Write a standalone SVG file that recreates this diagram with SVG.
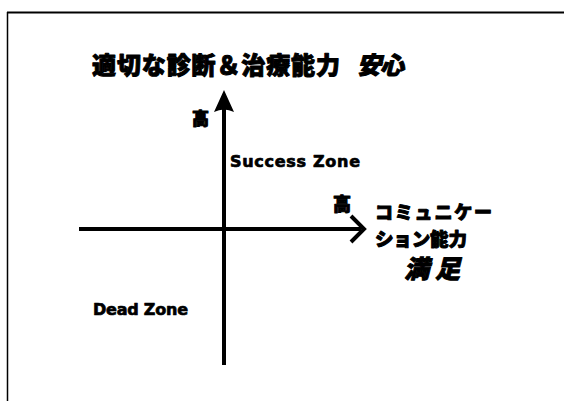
<svg xmlns="http://www.w3.org/2000/svg" width="564" height="401" viewBox="0 0 564 401">
<style>
.jp{font-family:"Noto Sans CJK JP","Noto Sans",sans-serif;font-weight:900;fill:#000;stroke:#000;stroke-width:1;stroke-linejoin:round}
.en{font-family:"DejaVu Sans","Noto Sans",sans-serif;font-weight:bold;fill:#000;stroke:#000;stroke-width:0.7;stroke-linejoin:round}
.ax{stroke:#000;stroke-width:4;fill:none}
</style>
<rect width="564" height="401" fill="#fff"/>
<g id="frame" stroke="#000" fill="none">
<line x1="7" y1="12.5" x2="564" y2="12.5" stroke-width="2"/>
<line x1="7.5" y1="12" x2="7.5" y2="401" stroke-width="1.5"/>
</g>
<g id="connectors">
<line class="ax" x1="224" y1="105" x2="224" y2="365"/>
<path d="M224,90 L234,112 Q224,107 214,112 Z" fill="#000"/>
<line class="ax" x1="79" y1="229" x2="361" y2="229"/>
<path class="ax" d="M351,216 L364,229 L351,242" stroke-width="4.5" stroke-linejoin="miter"/>
</g>
<g id="title">
<text class="jp" x="92" y="74" font-size="24" textLength="248" lengthAdjust="spacing">適切な診断＆治療能力</text>
<text class="jp" x="357" y="74" font-size="24" font-style="italic" textLength="47" lengthAdjust="spacing">安心</text>
</g>
<g id="y-high"><text class="jp" x="192" y="125" font-size="17">高</text></g>
<g id="x-high"><text class="jp" x="333" y="211" font-size="18">高</text></g>
<g id="success"><text class="en" x="230" y="167" font-size="16" textLength="130" lengthAdjust="spacing">Success Zone</text></g>
<g id="dead"><text class="en" x="93" y="315" font-size="16" textLength="95" lengthAdjust="spacing">Dead Zone</text></g>
<g id="x-label">
<text class="jp" x="375" y="219" font-size="18" textLength="117" lengthAdjust="spacing">コミュニケー</text>
<text class="jp" x="375" y="246" font-size="18.5" textLength="92" lengthAdjust="spacing">ション能力</text>
<text class="jp" x="404" y="278" font-size="25" font-style="italic" textLength="56" lengthAdjust="spacing">満足</text>
</g>
</svg>
